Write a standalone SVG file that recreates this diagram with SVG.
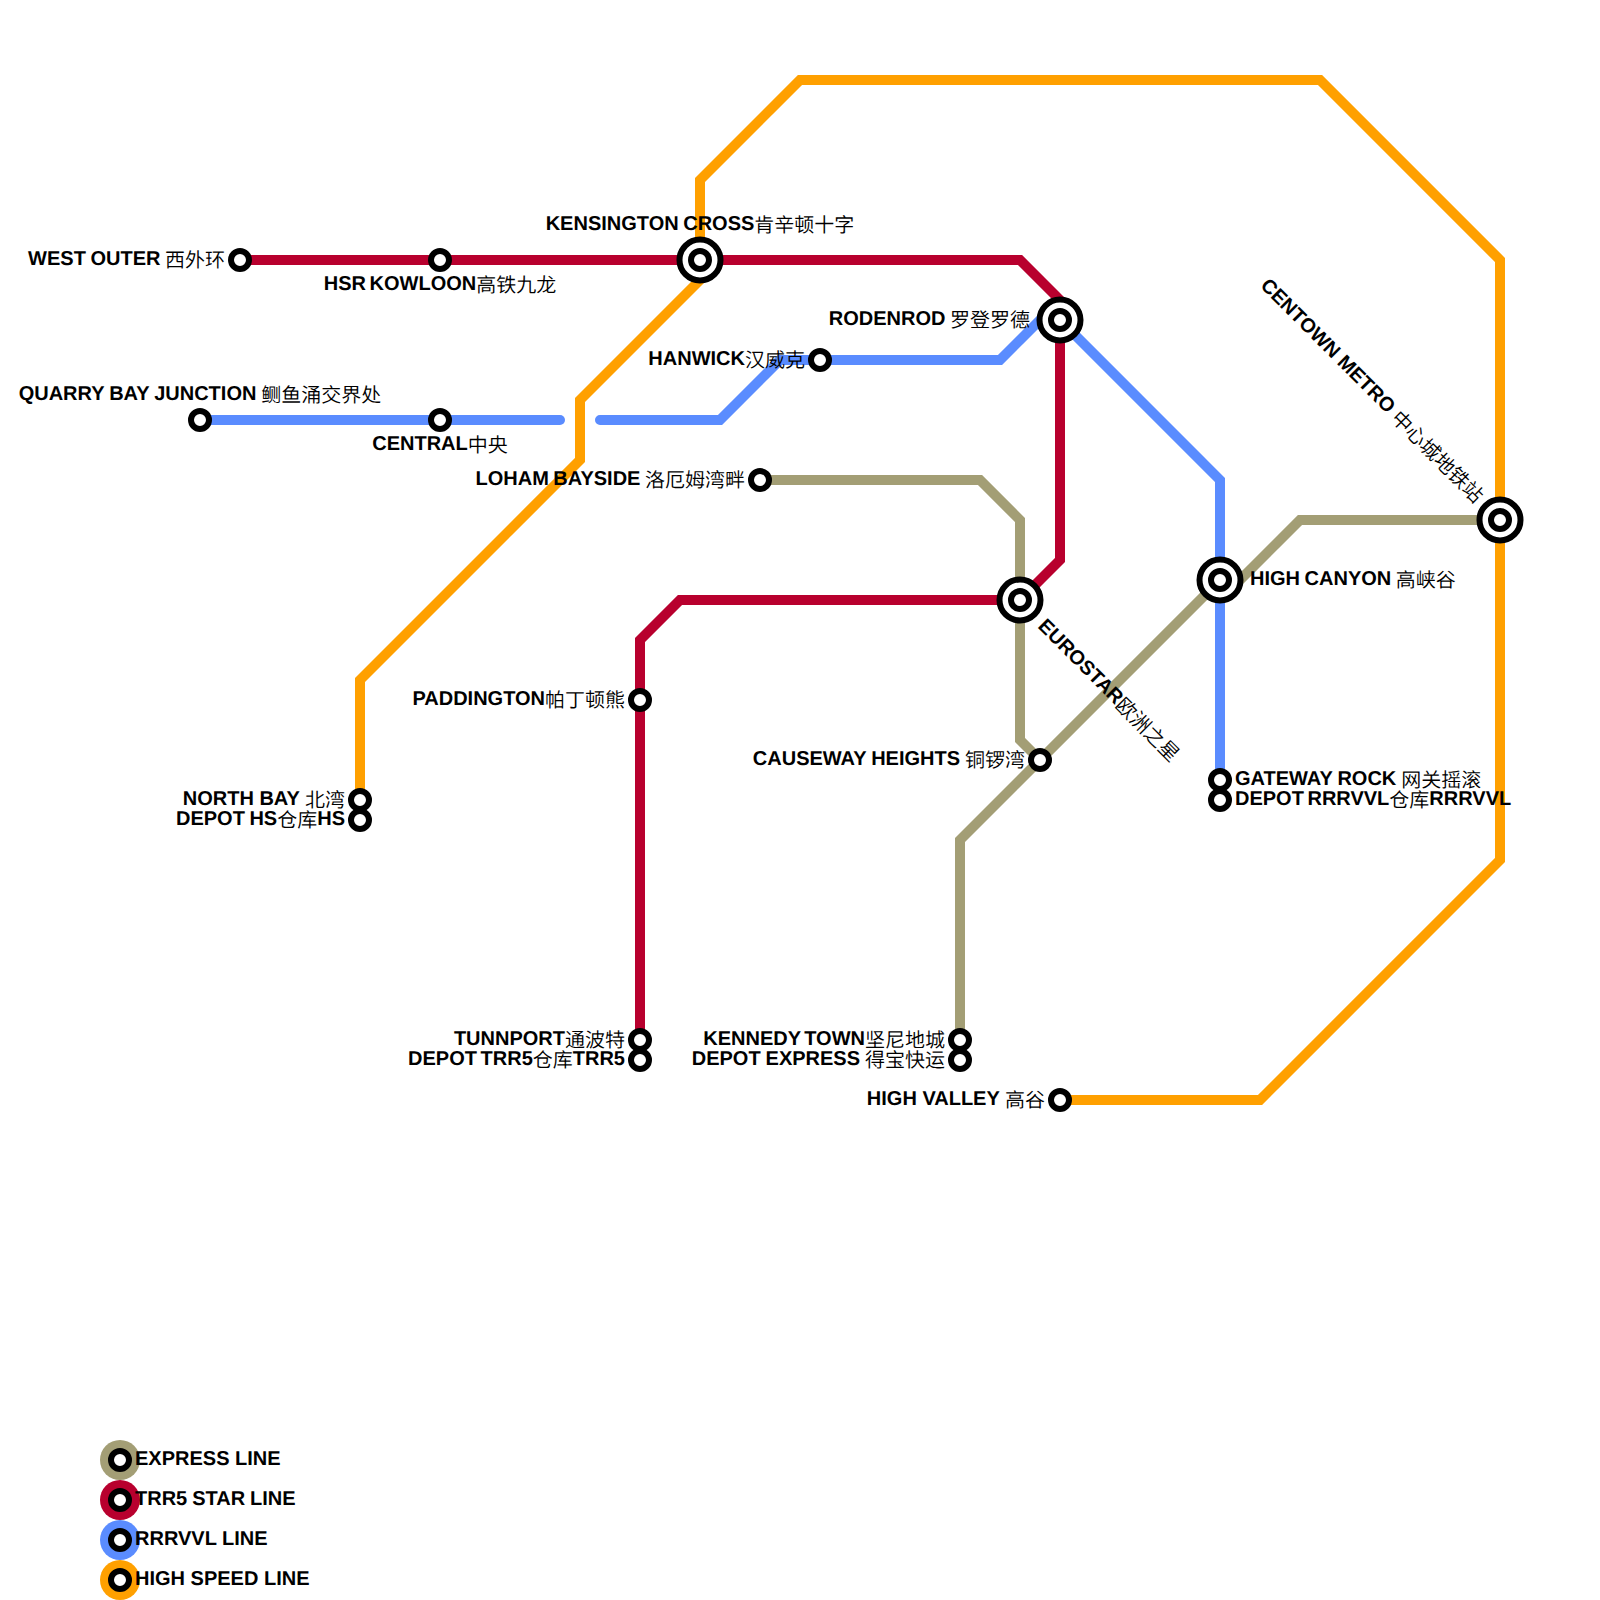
<svg xmlns="http://www.w3.org/2000/svg" width="1600" height="1600" viewBox="0 0 1600 1600">
<style>
.l{fill:none;stroke-width:10;stroke-linejoin:miter}
.ex{stroke:#a39e75}.tr{stroke:#b8002e}.rr{stroke:#5a8cff}.hs{stroke:#ffa000}
.s{fill:#fff;stroke:#000;stroke-width:6}
.b{fill:#fff;stroke:#000;stroke-width:6}
text{font-family:"Liberation Sans","Noto Sans CJK SC",sans-serif;font-size:20px;font-weight:700;fill:#000;text-rendering:geometricPrecision}
.c{font-weight:350}
.e{text-anchor:end}.m{text-anchor:middle}
.w05{word-spacing:-.6px}.w1{word-spacing:-1px}.w2{word-spacing:-2px}
</style>
<rect width="1600" height="1600" fill="#fff"/>
<g id="connectors">
<path class="l tr" d="M240 260H1020L1060 300V560L1020 600H680L640 640V1060"/>
<path class="l rr" stroke-linecap="round" d="M200 420H560"/>
<path class="l rr" stroke-linecap="round" d="M600 420H720L780 360H1000L1040 320H1060L1220 480V800"/>
<path class="l ex" d="M760 480H980L1020 520V740L1040 760"/>
<path class="l ex" d="M1500 520H1300L1240 580H1220L960 840V1060"/>
<path class="l hs" d="M360 820V680L580 460V400L700 280V180L800 80H1320L1500 260V860L1260 1100H1060"/>
</g>
<g id="west-outer"><circle class="s" cx="240" cy="260" r="9"/><text x="225" y="265" class="e w1">WEST OUTER <tspan class="c" dy="1.5">西外环</tspan></text></g>
<g id="hsr-kowloon"><circle class="s" cx="440" cy="260" r="9"/><text x="440" y="290" class="m w2">HSR KOWLOON<tspan class="c" dy="1.5">高铁九龙</tspan></text></g>
<g id="kensington-cross"><circle class="b" cx="700" cy="260" r="20.5"/><circle class="s" cx="700" cy="260" r="9"/><text x="700" y="230" class="m w1">KENSINGTON CROSS<tspan class="c" dy="1.5">肯辛顿十字</tspan></text></g>
<g id="rodenrod"><circle class="b" cx="1060" cy="320" r="20.5"/><circle class="s" cx="1060" cy="320" r="9"/><text x="1030" y="325" class="e w1">RODENROD <tspan class="c" dy="1.5">罗登罗德</tspan></text></g>
<g id="hanwick"><circle class="s" cx="820" cy="360" r="9"/><text x="805" y="365" class="e">HANWICK<tspan class="c" dy="1.5">汉威克</tspan></text></g>
<g id="quarry-bay"><circle class="s" cx="200" cy="420" r="9"/><text x="200" y="400" class="m w05">QUARRY BAY JUNCTION <tspan class="c" dy="1.5">鲗鱼涌交界处</tspan></text></g>
<g id="central"><circle class="s" cx="440" cy="420" r="9"/><text x="440" y="450" class="m">CENTRAL<tspan class="c" dy="1.5">中央</tspan></text></g>
<g id="loham-bayside"><circle class="s" cx="760" cy="480" r="9"/><text x="745" y="485" class="e w1">LOHAM BAYSIDE <tspan class="c" dy="1.5">洛厄姆湾畔</tspan></text></g>
<g id="eurostar"><circle class="b" cx="1020" cy="600" r="20.5"/><circle class="s" cx="1020" cy="600" r="9"/><text transform="translate(1037 627) rotate(45)">EUROSTAR<tspan class="c" dy="1.5">欧洲之星</tspan></text></g>
<g id="high-canyon"><circle class="b" cx="1220" cy="580" r="20.5"/><circle class="s" cx="1220" cy="580" r="9"/><text x="1250" y="585" class="w1">HIGH CANYON <tspan class="c" dy="1.5">高峡谷</tspan></text></g>
<g id="centown-metro"><circle class="b" cx="1500" cy="520" r="20.5"/><circle class="s" cx="1500" cy="520" r="9"/><text class="e" transform="translate(1476 503) rotate(45)">CENTOWN METRO <tspan class="c" dy="1.5">中心城地铁站</tspan></text></g>
<g id="paddington"><circle class="s" cx="640" cy="700" r="9"/><text x="625" y="705" class="e">PADDINGTON<tspan class="c" dy="1.5">帕丁顿熊</tspan></text></g>
<g id="causeway-heights"><circle class="s" cx="1040" cy="760" r="9"/><text x="1025" y="765" class="e w05">CAUSEWAY HEIGHTS <tspan class="c" dy="1.5">铜锣湾</tspan></text></g>
<g id="gateway-rock"><circle class="s" cx="1220" cy="780" r="9"/><text x="1235" y="785" class="w05">GATEWAY ROCK <tspan class="c" dy="1.5">网关摇滚</tspan></text></g>
<g id="depot-rrrvvl"><circle class="s" cx="1220" cy="800" r="9"/><text x="1235" y="805" class="w2">DEPOT RRRVVL<tspan class="c" dy="1.5">仓库</tspan><tspan dy="-1.5">RRRVVL</tspan></text></g>
<g id="north-bay"><circle class="s" cx="360" cy="800" r="9"/><text x="345" y="805" class="e">NORTH BAY <tspan class="c" dy="1.5">北湾</tspan></text></g>
<g id="depot-hs"><circle class="s" cx="360" cy="820" r="9"/><text x="345" y="825" class="e w1">DEPOT HS<tspan class="c" dy="1.5">仓库</tspan><tspan dy="-1.5">HS</tspan></text></g>
<g id="tunnport"><circle class="s" cx="640" cy="1040" r="9"/><text x="625" y="1045" class="e">TUNNPORT<tspan class="c" dy="1.5">通波特</tspan></text></g>
<g id="depot-trr5"><circle class="s" cx="640" cy="1060" r="9"/><text x="625" y="1065" class="e w2">DEPOT TRR5<tspan class="c" dy="1.5">仓库</tspan><tspan dy="-1.5">TRR5</tspan></text></g>
<g id="kennedy-town"><circle class="s" cx="960" cy="1040" r="9"/><text x="945" y="1045" class="e w2">KENNEDY TOWN<tspan class="c" dy="1.5">坚尼地城</tspan></text></g>
<g id="depot-express"><circle class="s" cx="960" cy="1060" r="9"/><text x="945" y="1065" class="e w05">DEPOT EXPRESS <tspan class="c" dy="1.5">得宝快运</tspan></text></g>
<g id="high-valley"><circle class="s" cx="1060" cy="1100" r="9"/><text x="1045" y="1105" class="e">HIGH VALLEY <tspan class="c" dy="1.5">高谷</tspan></text></g>
<g id="legend">
<g id="legend-express"><circle cx="120" cy="1460" r="20" fill="#a39e75"/><circle class="s" cx="120" cy="1460" r="9"/><text x="135" y="1465">EXPRESS LINE</text></g>
<g id="legend-trr5"><circle cx="120" cy="1500" r="20" fill="#b8002e"/><circle class="s" cx="120" cy="1500" r="9"/><text x="135" y="1505" class="w05">TRR5 STAR LINE</text></g>
<g id="legend-rrrvvl"><circle cx="120" cy="1540" r="20" fill="#5a8cff"/><circle class="s" cx="120" cy="1540" r="9"/><text x="135" y="1545">RRRVVL LINE</text></g>
<g id="legend-hs"><circle cx="120" cy="1580" r="20" fill="#ffa000"/><circle class="s" cx="120" cy="1580" r="9"/><text x="135" y="1585">HIGH SPEED LINE</text></g>
</g>
</svg>
